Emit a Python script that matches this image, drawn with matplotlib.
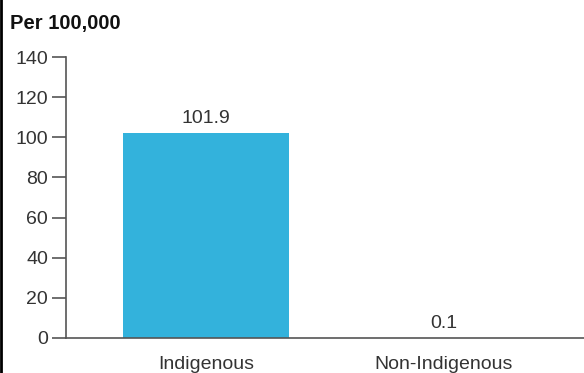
import matplotlib.pyplot as plt
from matplotlib.lines import Line2D

categories = ["Indigenous", "Non-Indigenous"]
values = [101.9, 0.1]
labels = ["101.9", "0.1"]
yticks = [0, 20, 40, 60, 80, 100, 120, 140]

plt.rcParams['font.family'] = ['Liberation Sans', 'DejaVu Sans']

fig = plt.figure(figsize=(5.84, 3.73), dpi=100)
ax = fig.add_axes([66 / 584, 35 / 373, 1 - 66 / 584, 281 / 373])

x = range(len(categories))
ax.bar(x, values, width=0.7, color="#33b2dc")
for xi, v, lab in zip(x, values, labels):
    ax.text(xi, v + 3, lab, ha="center", va="bottom", fontsize=14, color="#333333")

ax.set_xlim(-0.588, 1.588)
ax.set_ylim(0, 140)
ax.set_yticks(yticks)
ax.set_xticks(list(x))
ax.set_xticklabels(categories)

for s in ["top", "right"]:
    ax.spines[s].set_visible(False)
for s in ["left", "bottom"]:
    ax.spines[s].set_color("#555555")
    ax.spines[s].set_linewidth(1.2)
ax.tick_params(axis="y", length=10, width=1.2, color="#555555", labelsize=14,
               labelcolor="#333333", pad=3)
ax.tick_params(axis="x", length=0, labelsize=14, labelcolor="#333333", pad=13)

fig.text(10 / 584, 1 - 24 / 373, "Per 100,000", fontsize=14.5, fontweight="bold",
         ha="left", va="center", color="#111111")

# left border line
fig.add_artist(Line2D([1 / 584, 1 / 584], [0, 1], color="black", linewidth=2,
                      transform=fig.transFigure))

fig.savefig("out.png", dpi=100)
